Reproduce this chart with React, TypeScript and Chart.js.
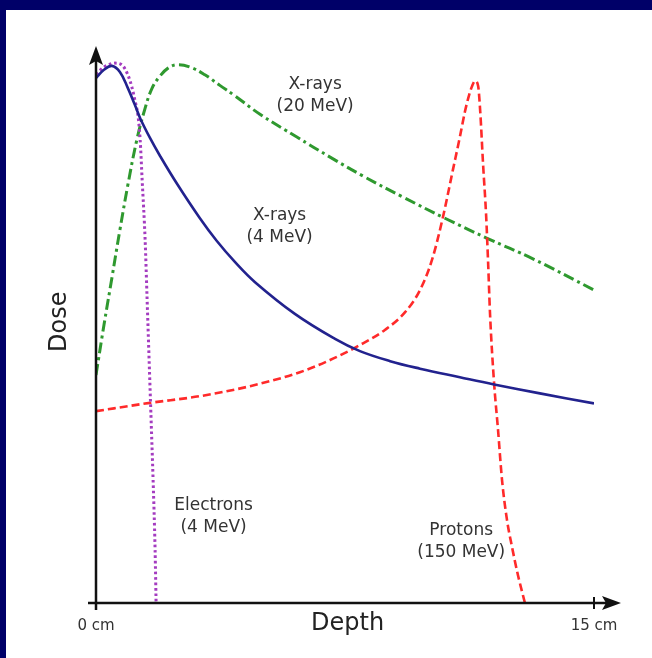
import React, { useEffect, useRef } from "react";
import { Chart, registerables } from "chart.js";
Chart.register(...registerables);

// Depth in cm, dose in relative units (0-100)
const xray4Depth = [0, 0.24, 0.48, 0.72, 0.96, 1.17, 1.33, 1.63, 1.93, 2.44, 3.13, 3.64, 4.19, 4.79, 5.99, 7.2, 7.95, 8.86, 9.76, 10.96, 11.99, 13.37, 15];
const xray4Dose = [94.4, 95.9, 96.6, 95.5, 92.6, 89.6, 87.2, 83.6, 80.4, 75.4, 69.2, 65.1, 61.3, 57.7, 52.0, 47.5, 45.3, 43.5, 42.15, 40.6, 39.3, 37.7, 35.9];

const xray20Depth = [0, 0.24, 0.48, 0.72, 0.96, 1.23, 1.48, 1.69, 1.93, 2.17, 2.44, 2.83, 3.28, 3.73, 4.19, 4.94, 6.05, 7.05, 8.04, 9.25, 10.51, 11.78, 13.16, 15];
const xray20Dose = [41.0, 50.0, 58.5, 67.1, 75.2, 83.3, 89.0, 92.6, 94.8, 96.2, 96.8, 96.4, 95.0, 93.1, 91.2, 87.9, 83.8, 80.2, 76.8, 73.0, 69.2, 65.6, 61.9, 56.3];

const protonDepth = [0, 1.63, 3.13, 4.64, 6.14, 7.05, 7.95, 8.7, 9.31, 9.76, 10.12, 10.45, 10.75, 10.96, 11.11, 11.24, 11.33, 11.42, 11.51, 11.57, 11.66, 11.75, 11.81, 11.87, 11.99, 12.11, 12.23, 12.38, 12.53, 12.71, 12.92];
const protonDose = [34.5, 36.0, 37.2, 39.0, 41.5, 43.7, 46.4, 49.1, 52.3, 56.3, 61.7, 69.4, 77.9, 83.8, 88.3, 91.4, 93.0, 93.9, 93.0, 88.7, 78.8, 69.8, 61.3, 51.8, 39.6, 31.1, 22.1, 14.9, 10.1, 5.0, 0];

const electronDepth = [0, 0.24, 0.42, 0.57, 0.81, 0.96, 1.08, 1.17, 1.27, 1.33, 1.39, 1.48, 1.54, 1.6, 1.66, 1.72, 1.78, 1.81];
const electronDose = [95.1, 96.4, 96.9, 97.1, 96.6, 95.0, 92.8, 90.5, 87.4, 83.3, 76.1, 65.3, 54.5, 43.7, 32.9, 22.1, 9.5, 0];

const xTickLabels = ["0 cm", "15 cm"];
const xTickValues = [0, 15];
const xTitle = "Depth";
const yTitle = "Dose";
const annotations = [
  { lines: ["X-rays", "(20 MeV)"], x: 6.6, y: 93.3 },
  { lines: ["X-rays", "(4 MeV)"], x: 5.53, y: 69.6 },
  { lines: ["Electrons", "(4 MeV)"], x: 3.54, y: 17.5 },
  { lines: ["Protons", "(150 MeV)"], x: 11.0, y: 13.0 },
];

const zip = (xs: number[], ys: number[]) => xs.map((x, i) => ({ x, y: ys[i] }));

const FONT = '"DejaVu Sans", Verdana, sans-serif';

const decorPlugin = {
  id: "decor",
  beforeDraw(chart: any) {
    const ctx = chart.ctx;
    ctx.save();
    ctx.fillStyle = "#000068";
    ctx.fillRect(0, 0, chart.width, chart.height);
    ctx.fillStyle = "#ffffff";
    ctx.fillRect(6, 10, chart.width - 6, chart.height - 10);
    ctx.restore();
  },
  afterDraw(chart: any) {
    const ctx = chart.ctx;
    const xs = chart.scales.x;
    const ys = chart.scales.y;
    const x0 = xs.getPixelForValue(0);
    const x15 = xs.getPixelForValue(15);
    const y0 = ys.getPixelForValue(0);
    const yTop = ys.getPixelForValue(100);
    ctx.save();
    ctx.strokeStyle = "#111";
    ctx.fillStyle = "#111";
    ctx.lineWidth = 2.5;
    // y axis
    ctx.beginPath();
    ctx.moveTo(x0, y0 + 7);
    ctx.lineTo(x0, yTop + 14);
    ctx.stroke();
    ctx.beginPath();
    ctx.moveTo(x0, yTop - 1);
    ctx.lineTo(x0 + 7, yTop + 18);
    ctx.lineTo(x0, yTop + 14);
    ctx.lineTo(x0 - 7, yTop + 18);
    ctx.closePath();
    ctx.fill();
    // x axis
    ctx.beginPath();
    ctx.moveTo(x0 - 8, y0);
    ctx.lineTo(x15 + 14, y0);
    ctx.stroke();
    const tipX = x15 + 27;
    ctx.beginPath();
    ctx.moveTo(tipX, y0);
    ctx.lineTo(tipX - 19, y0 - 7);
    ctx.lineTo(tipX - 15, y0);
    ctx.lineTo(tipX - 19, y0 + 7);
    ctx.closePath();
    ctx.fill();
    // tick at 15
    ctx.lineWidth = 2;
    ctx.beginPath();
    ctx.moveTo(x15, y0 - 6);
    ctx.lineTo(x15, y0 + 6);
    ctx.stroke();

    // texts
    ctx.fillStyle = "#333";
    ctx.textAlign = "center";
    ctx.textBaseline = "middle";
    ctx.font = `15px ${FONT}`;
    xTickValues.forEach((v, i) => {
      ctx.fillText(xTickLabels[i], xs.getPixelForValue(v), y0 + 23);
    });
    ctx.font = `24px ${FONT}`;
    ctx.fillStyle = "#222";
    ctx.fillText(xTitle, xs.getPixelForValue(7.58), y0 + 21);
    ctx.save();
    ctx.translate(x0 - 36, ys.getPixelForValue(50.6));
    ctx.rotate(-Math.PI / 2);
    ctx.fillText(yTitle, 0, 0);
    ctx.restore();

    ctx.fillStyle = "#333";
    ctx.font = `17px ${FONT}`;
    annotations.forEach((a) => {
      const px = xs.getPixelForValue(a.x);
      const py = ys.getPixelForValue(a.y);
      a.lines.forEach((t, i) => ctx.fillText(t, px, py + i * 22));
    });
    ctx.restore();
  },
};

export default function App() {
  const ref = useRef<HTMLCanvasElement>(null);
  useEffect(() => {
    document.body.style.margin = "0";
    const chart = new Chart(ref.current!, {
      type: "line",
      data: {
        datasets: [
          {
            label: "X-rays (4 MeV)",
            data: zip(xray4Depth, xray4Dose),
            borderColor: "#22228e",
            borderWidth: 2.6,
            tension: 0.4,
            order: 1,
          },
          {
            label: "Electrons (4 MeV)",
            data: zip(electronDepth, electronDose),
            borderColor: "#a43cc0",
            borderWidth: 3,
            borderDash: [2.6, 2.8],
            cubicInterpolationMode: "monotone",
            order: 2,
          },
          {
            label: "Protons (150 MeV)",
            data: zip(protonDepth, protonDose),
            borderColor: "#ff2a2a",
            borderWidth: 2.6,
            borderDash: [8, 4],
            cubicInterpolationMode: "monotone",
            order: 3,
          },
          {
            label: "X-rays (20 MeV)",
            data: zip(xray20Depth, xray20Dose),
            borderColor: "#2f992f",
            borderWidth: 3,
            borderDash: [11, 4, 3, 4],
            tension: 0.4,
            order: 4,
          },
        ],
      },
      options: {
        responsive: false,
        animation: false,
        events: [],
        layout: { padding: { left: 96, right: 58, top: 47, bottom: 55 } },
        elements: {
          point: { radius: 0 },
          line: { fill: false },
        },
        plugins: { legend: { display: false }, tooltip: { enabled: false } },
        scales: {
          x: { type: "linear", min: 0, max: 15, display: false },
          y: { type: "linear", min: 0, max: 100, display: false },
        },
      },
      plugins: [decorPlugin],
    });
    return () => chart.destroy();
  }, []);
  return <canvas ref={ref} width={652} height={658} style={{ display: "block" }} />;
}
